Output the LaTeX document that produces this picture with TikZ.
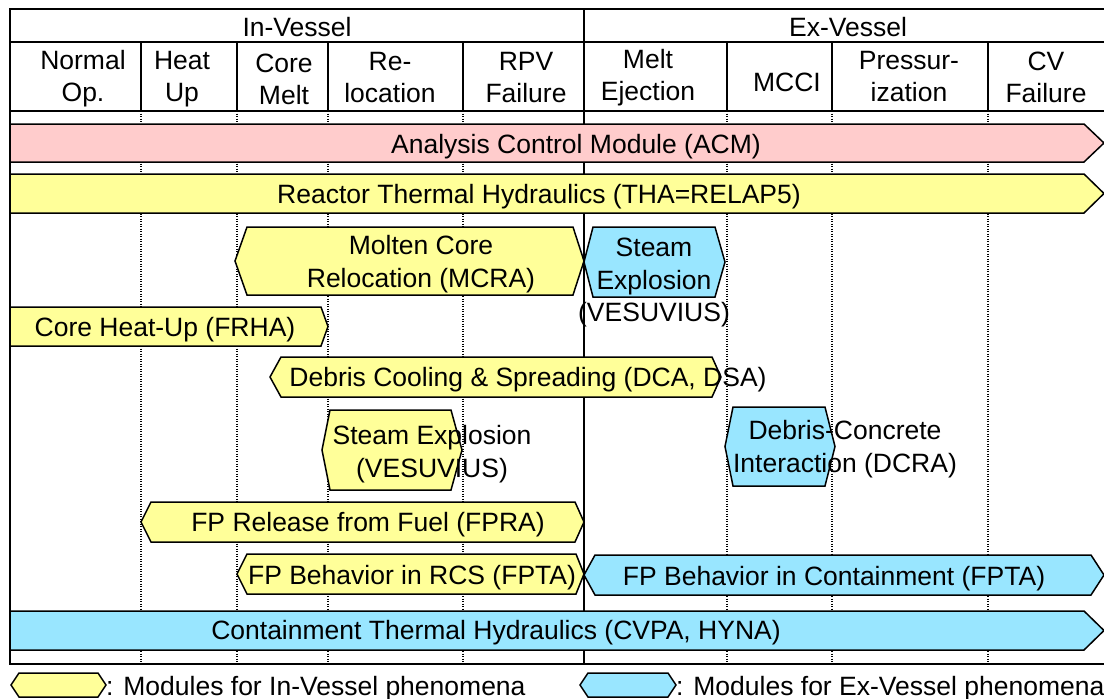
\documentclass[tikz,border=0pt]{standalone}
\usepackage{fontspec}
\setmainfont{Liberation Sans}
\definecolor{inyel}{HTML}{FFFF99}
\definecolor{exblue}{HTML}{99E6FF}
\definecolor{acmpink}{HTML}{FFCCCC}
\newcommand\modshape[7]{\filldraw[modline,fill=#1] ({#2+#6},#4) -- ({#3-#7},#4) -- (#3,{(#4+#5)/2}) -- ({#3-#7},#5) -- ({#2+#6},#5) -- (#2,{(#4+#5)/2}) -- cycle;}
\tikzset{
  lbl/.style={font=\fontsize{26.5}{33}\selectfont, inner sep=0pt, align=center, yshift=-2.5pt},
  hdr/.style={font=\fontsize{26.5}{32}\selectfont, inner sep=0pt, align=center},
  modline/.style={draw=black, line width=1.5pt, line join=miter},
  framel/.style={line width=2pt},
  colsep/.style={line width=1.5pt},
  gridl/.style={line width=1.2pt, dash pattern=on 1.2pt off 1.3pt}
}
\begin{document}
\begin{tikzpicture}[x=1pt,y=-1pt]
\useasboundingbox (0,0) rectangle (1104,699);
\clip (0,0) rectangle (1104,699);
% dotted grid
\foreach \x in {141,237,328,463,727,832,988} \draw[gridl] (\x,111) -- (\x,664);
% frame
\draw[framel] (1130,9) -- (10,9) -- (10,664) -- (1130,664);
\draw[framel] (10,42) -- (1130,42);
\draw[framel] (10,111) -- (1130,111);
\draw[framel] (584,9) -- (584,664);
\foreach \x in {141,237,328,463,727,832,988} \draw[colsep] (\x,42) -- (\x,111);
% header text
\node[lbl] (hin) at (297,25) {In-Vessel};
\node[lbl] (hex) at (848,25) {Ex-Vessel};
\node[hdr] (c1) at (83,79) {Normal\\Op.};
\node[hdr] (c2) at (182,79) {Heat\\Up};
\node[hdr] (c3) at (284,79) {Core\\Melt};
\node[hdr] (c4) at (390,78) {Re-\\location};
\node[hdr] (c5) at (526,78) {RPV\\Failure};
\node[hdr] (c6) at (648,78) {Melt\\Ejection};
\node[lbl] (c7) at (787,80) {MCCI};
\node[hdr] (c8) at (909,77) {Pressur-\\ization};
\node[hdr] (c9) at (1046,77) {CV\\Failure};
% modules
\modshape{acmpink}{10}{1104}{124}{162}{0}{20}
\modshape{inyel}{10}{1104}{174}{213}{0}{20}
\modshape{inyel}{235}{584}{227}{295}{12}{11}
\modshape{exblue}{584}{725}{227}{297}{9}{10}
\modshape{inyel}{10}{328}{307}{346}{0}{7}
\modshape{inyel}{270}{721}{357}{397}{11}{9}
\modshape{inyel}{322}{462}{410}{490}{8}{11}
\modshape{exblue}{725}{835}{407}{486}{8}{10}
\modshape{inyel}{141}{584}{502}{542}{10}{9}
\modshape{inyel}{237}{584}{554}{594}{10}{8}
\modshape{exblue}{584}{1104}{555}{595}{11}{13}
\modshape{exblue}{10}{1104}{611}{650}{0}{20}
% legend shapes
\modshape{inyel}{11}{106}{673}{697}{8}{8}
\modshape{exblue}{580}{676}{673}{697}{8}{8}
% module text
\node[lbl] (acm) at (576,144) {Analysis Control Module (ACM)};
\node[lbl] (tha) at (539,194) {Reactor Thermal Hydraulics (THA=RELAP5)};
\node[lbl] (mcra) at (421,262) {Molten Core\\Relocation (MCRA)};
\node[lbl] (sex1) at (654,264) {Steam\\Explosion};
\node[lbl] (sex1b) at (654,312) {(VESUVIUS)};
\node[lbl] (frha) at (165,327) {Core Heat-Up (FRHA)};
\node[lbl] (dca) at (528,377) {Debris Cooling \& Spreading (DCA, DSA)};
\node[lbl] (sex2) at (432,452) {Steam Explosion\\(VESUVIUS)};
\node[lbl] (dcra) at (845,447) {Debris-Concrete\\Interaction (DCRA)};
\node[lbl] (fpra) at (368,522) {FP Release from Fuel (FPRA)};
\node[lbl] (fptai) at (412,575) {FP Behavior in RCS (FPTA)};
\node[lbl] (fptae) at (834,576) {FP Behavior in Containment (FPTA)};
\node[lbl] (cvpa) at (496,630) {Containment Thermal Hydraulics (CVPA, HYNA)};
% legend text
\node[lbl, anchor=west] (lgin) at (106,686) {: Modules for In-Vessel phenomena};
\node[lbl, anchor=west] (lgex) at (676,686) {: Modules for Ex-Vessel phenomena};
\end{tikzpicture}
\end{document}
